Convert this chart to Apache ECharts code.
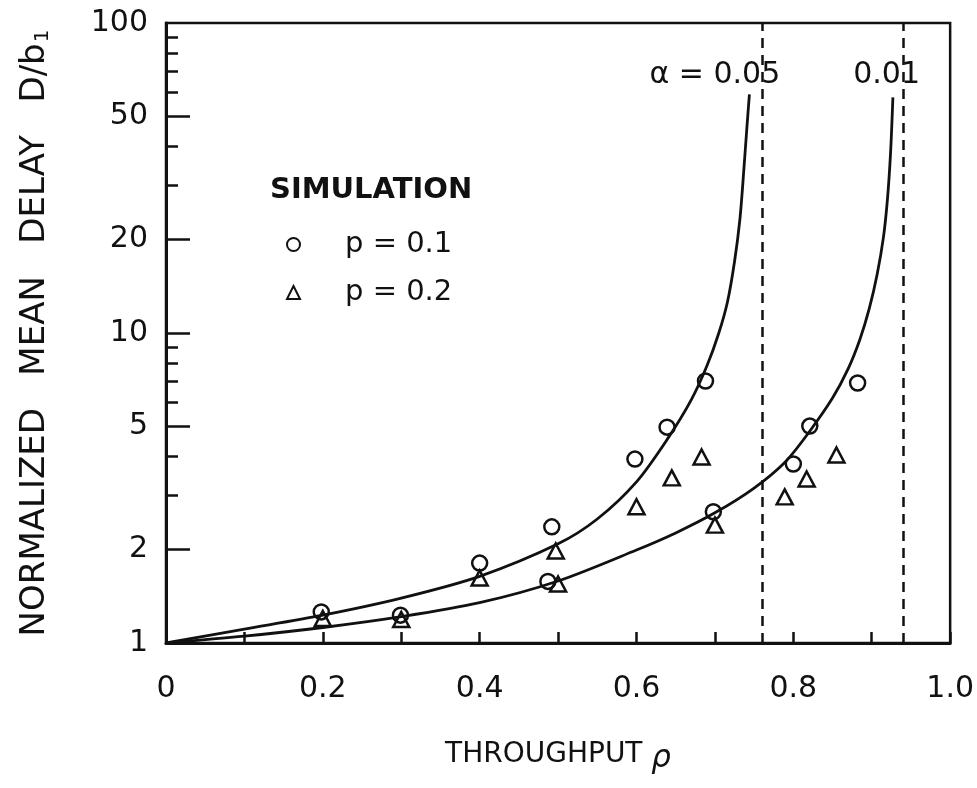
<!DOCTYPE html>
<html><head><meta charset="utf-8">
<script src="https://cdn.jsdelivr.net/npm/echarts@6/dist/echarts.min.js"></script>
<style>html,body{margin:0;padding:0;background:#fff}#c{width:977px;height:788px}</style>
</head><body><div id="c"></div>
<script>
// Theory curve alpha = 0.05
const curve05X = [0, 0.1, 0.2, 0.3, 0.4, 0.5, 0.55, 0.6, 0.64, 0.67, 0.69, 0.705, 0.716, 0.725, 0.732, 0.737, 0.741, 0.744];
const curve05Y = [1, 1.109, 1.230, 1.396, 1.641, 2.089, 2.512, 3.311, 4.571, 6.095, 7.852, 10.0, 12.59, 16.98, 23.44, 33.88, 46.77, 58.88];
// Theory curve alpha = 0.01
const curve01X = [0, 0.1, 0.2, 0.3, 0.4, 0.5, 0.6, 0.65, 0.7, 0.75, 0.79, 0.82, 0.85, 0.87, 0.885, 0.897, 0.907, 0.915, 0.920, 0.924, 0.927];
const curve01Y = [1, 1.052, 1.122, 1.216, 1.349, 1.585, 1.995, 2.265, 2.630, 3.162, 3.846, 4.786, 6.166, 7.674, 9.550, 12.02, 15.49, 20.42, 26.92, 38.02, 57.54];
// Simulation p = 0.1 (circles)
const simP1X = [0.198, 0.299, 0.400, 0.487, 0.492, 0.598, 0.639, 0.688, 0.698, 0.800, 0.821, 0.882];
const simP1Y = [1.26, 1.23, 1.81, 1.58, 2.37, 3.92, 4.97, 7.0, 2.65, 3.78, 5.01, 6.9];
// Simulation p = 0.2 (triangles)
const simP2X = [0.200, 0.300, 0.400, 0.497, 0.500, 0.600, 0.645, 0.683, 0.700, 0.789, 0.817, 0.855];
const simP2Y = [1.20, 1.19, 1.62, 1.98, 1.55, 2.75, 3.41, 3.98, 2.40, 2.96, 3.38, 4.04];
// Asymptotes (dashed)
const asymptoteX = [0.756, 0.938];
// Curve labels
const alphaLabels = ['α = 0.05', '0.01'];
const alphaLabelX = [0.700, 0.919];
const alphaLabelY = [68, 68];
// Axis ticks / labels
const xTickValues = [0, 0.2, 0.4, 0.6, 0.8, 1.0];
const xTickLabels = ['0', '0.2', '0.4', '0.6', '0.8', '1.0'];
const yLabelValues = [1, 2, 5, 10, 20, 50, 100];
const yTickLabels = ['1', '2', '5', '10', '20', '50', '100'];
const yMajorTicks = [2, 5, 10, 20, 50];
const yMinorTicks = [3, 4, 6, 7, 8, 9, 30, 40, 60, 70, 80, 90];
const seriesNames = ['p = 0.1', 'p = 0.2'];
const legendTitle = 'SIMULATION';
const xName = 'THROUGHPUT {i|ρ}';
const yName = 'NORMALIZED   MEAN   DELAY   D/b{sub|1}';

const zip = (xs, ys) => xs.map((x, i) => [x, ys[i]]);
const FONT = 'DejaVu Sans';
const INK = '#111';

const chart = echarts.init(document.getElementById('c'), null, {renderer: 'canvas'});
const yBase = {
  type: 'log', logBase: 10, min: 1, max: 100, position: 'left',
  splitLine: {show: false}, minorTick: {show: false}
};
chart.setOption({
  backgroundColor: '#fff',
  animation: false,
  title: {
    text: legendTitle, left: 265, top: 171,
    textStyle: {fontFamily: FONT, fontSize: 29, fontWeight: 'bold', color: INK}
  },
  legend: {
    orient: 'vertical', left: 281, top: 225, itemWidth: 13, itemHeight: 13, itemGap: 19,
    data: seriesNames,
    textStyle: {fontFamily: FONT, fontSize: 29, color: INK, padding: [0, 0, 0, 40]}
  },
  grid: {left: 166, right: 25, top: 23, bottom: 145, show: true, borderColor: INK, borderWidth: 2.5},
  xAxis: {
    type: 'value', min: 0, max: 1, interval: 0.1,
    name: xName, nameLocation: 'middle', nameGap: 92,
    nameTextStyle: {fontFamily: FONT, fontSize: 28, color: INK,
      rich: {i: {fontFamily: FONT, fontStyle: 'italic', fontSize: 31, color: INK, padding: [8, 0, 0, 0]}}},
    axisLine: {lineStyle: {color: INK, width: 3}},
    axisTick: {inside: true, length: 11, lineStyle: {color: INK, width: 2.5}},
    axisLabel: {
      margin: 31, fontFamily: FONT, fontSize: 30, color: INK,
      formatter: v => { const i = xTickValues.findIndex(t => Math.abs(t - v) < 1e-6); return i >= 0 ? xTickLabels[i] : ''; }
    },
    splitLine: {show: false}
  },
  yAxis: [
    Object.assign({}, yBase, {
      name: yName, nameLocation: 'middle', nameRotate: 90, nameGap: 113,
      nameTextStyle: {fontFamily: FONT, fontSize: 34, color: INK,
        rich: {sub: {fontFamily: FONT, fontSize: 20, color: INK, verticalAlign: 'bottom', padding: [15, 0, 0, 1]}}},
      axisLine: {show: true, lineStyle: {color: INK, width: 3}},
      axisTick: {show: true, inside: true, length: 24, lineStyle: {color: INK, width: 2.5}, customValues: yMajorTicks},
      axisLabel: {
        margin: 18, fontFamily: FONT, fontSize: 30, color: INK, customValues: yLabelValues,
        formatter: v => { const i = yLabelValues.findIndex(t => Math.abs(t - v) < 1e-6); return i >= 0 ? yTickLabels[i] : ''; }
      }
    }),
    Object.assign({}, yBase, {
      axisLine: {show: false},
      axisTick: {show: true, inside: true, length: 12, lineStyle: {color: INK, width: 2.5}, customValues: yMinorTicks},
      axisLabel: {show: false}
    })
  ],
  series: [
    {
      name: 'alpha005', type: 'line', data: zip(curve05X, curve05Y), smooth: 0.3,
      showSymbol: false, symbol: 'none', lineStyle: {color: INK, width: 2.8}, z: 2,
      markLine: {
        silent: true, symbol: 'none', label: {show: false},
        lineStyle: {color: INK, width: 2.5, type: [10, 7]},
        data: asymptoteX.map(x => ({xAxis: x}))
      }
    },
    {
      name: 'alpha001', type: 'line', data: zip(curve01X, curve01Y), smooth: 0.3,
      showSymbol: false, symbol: 'none', lineStyle: {color: INK, width: 2.8}, z: 2
    },
    {
      name: seriesNames[0], type: 'scatter', data: zip(simP1X, simP1Y), symbol: 'circle', symbolSize: 15,
      itemStyle: {color: 'rgba(255,255,255,0)', borderColor: INK, borderWidth: 2.5, opacity: 1}, z: 3
    },
    {
      name: seriesNames[1], type: 'scatter', data: zip(simP2X, simP2Y), symbol: 'triangle', symbolSize: [16, 15],
      itemStyle: {color: 'rgba(255,255,255,0)', borderColor: INK, borderWidth: 2.5, opacity: 1}, z: 3
    },
    {
      name: 'labels', type: 'scatter', data: zip(alphaLabelX, alphaLabelY), symbolSize: 0, silent: true,
      itemStyle: {opacity: 1},
      label: {show: true, position: 'inside', fontFamily: FONT, fontSize: 30, color: INK,
        formatter: p => alphaLabels[p.dataIndex]}
    }
  ]
});
</script></body></html>
